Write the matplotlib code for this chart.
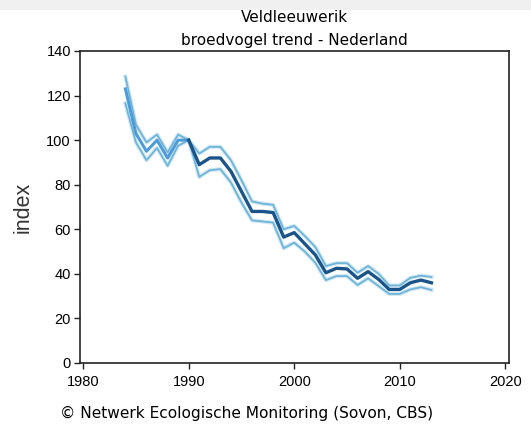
import matplotlib
matplotlib.use("Agg")
import matplotlib.pyplot as plt
from matplotlib.patches import Rectangle

years = list(range(1984, 2014))
index_main = [123, 103, 95, 100, 92, 100, 100, 89, 92, 92, 86, 77, 68, 68, 67.5, 56.5, 58.5, 53.5, 48.5, 40.5,
              42.5, 42.2, 38, 41, 37.5, 33, 33, 36, 37.2, 36]
index_upper = [128.5, 107, 99, 102.5, 94.5, 102.5, 100, 94, 97, 97, 91, 82, 72.5, 71.5, 71, 60, 61.5, 57, 52, 43.5,
               44.8, 44.8, 40.5, 43.5, 40, 34.8, 34.8, 38.2, 39.2, 38.6]
index_lower = [116.5, 99, 91, 96.5, 88.5, 97.5, 100, 83.5, 86.5, 87, 81, 72, 64, 63.5, 63, 51.5, 54, 50, 45, 37.2,
               39, 39, 35, 38, 34.5, 31, 31, 33, 34, 32.8]
base_year = 1990

x_ticks = [1980, 1990, 2000, 2010, 2020]
y_ticks = [0, 20, 40, 60, 80, 100, 120, 140]

fig = plt.figure(figsize=(5.31, 4.25), dpi=100)
fig.patches.append(Rectangle((0, 1 - 10 / 425), 1, 10 / 425, transform=fig.transFigure,
                             facecolor="#f0f0f0", edgecolor="none", zorder=0))
ax = fig.add_axes([80 / 531, (425 - 363) / 425, (509 - 80) / 531, (363 - 51) / 425])

light = "#6fb4d8"
halo = "#d3e9f4"
early = "#4f9bd8"
dark = "#1a5488"

for s in (index_upper, index_lower):
    ax.plot(years, s, color=halo, lw=3.0, solid_joinstyle="round", zorder=2)
    ax.plot(years, s, color=light, lw=1.3, solid_joinstyle="round", zorder=3)

i0 = years.index(base_year)
ax.plot(years[:i0 + 1], index_main[:i0 + 1], color=early, lw=2.2, solid_joinstyle="round", zorder=4)
ax.plot(years[i0:], index_main[i0:], color=dark, lw=2.4, solid_joinstyle="round", zorder=4)

ax.set_xlim(1979.7, 2020.35)
ax.set_ylim(0, 140)
ax.set_xticks(x_ticks)
ax.set_yticks(y_ticks)
ax.tick_params(axis="both", direction="out", length=4, width=1, labelsize=10.5, color="#222222")
ax.tick_params(axis="x", pad=4.5)
ax.tick_params(axis="y", pad=2.5)
for lab in ax.get_xticklabels() + ax.get_yticklabels():
    lab.set_family("Liberation Sans")
for sp in ax.spines.values():
    sp.set_linewidth(1.2)
    sp.set_color("#222222")

ax.set_ylabel("index", family="Liberation Sans", fontsize=15.5, labelpad=9, color="#333333")

cx = (80 + 509) / 2 / 531
fig.text(cx, 1 - 18 / 425, "Veldleeuwerik", ha="center", va="center", fontsize=11, family="DejaVu Sans")
fig.text(cx, 1 - 40 / 425, "broedvogel trend - Nederland", ha="center", va="center", fontsize=11,
         family="DejaVu Sans")
fig.text(60 / 531, 1 - 413 / 425, "\u00a9 Netwerk Ecologische Monitoring (Sovon, CBS)", ha="left", va="center",
         fontsize=11.1, family="DejaVu Sans")

fig.savefig("out.png", dpi=100)
